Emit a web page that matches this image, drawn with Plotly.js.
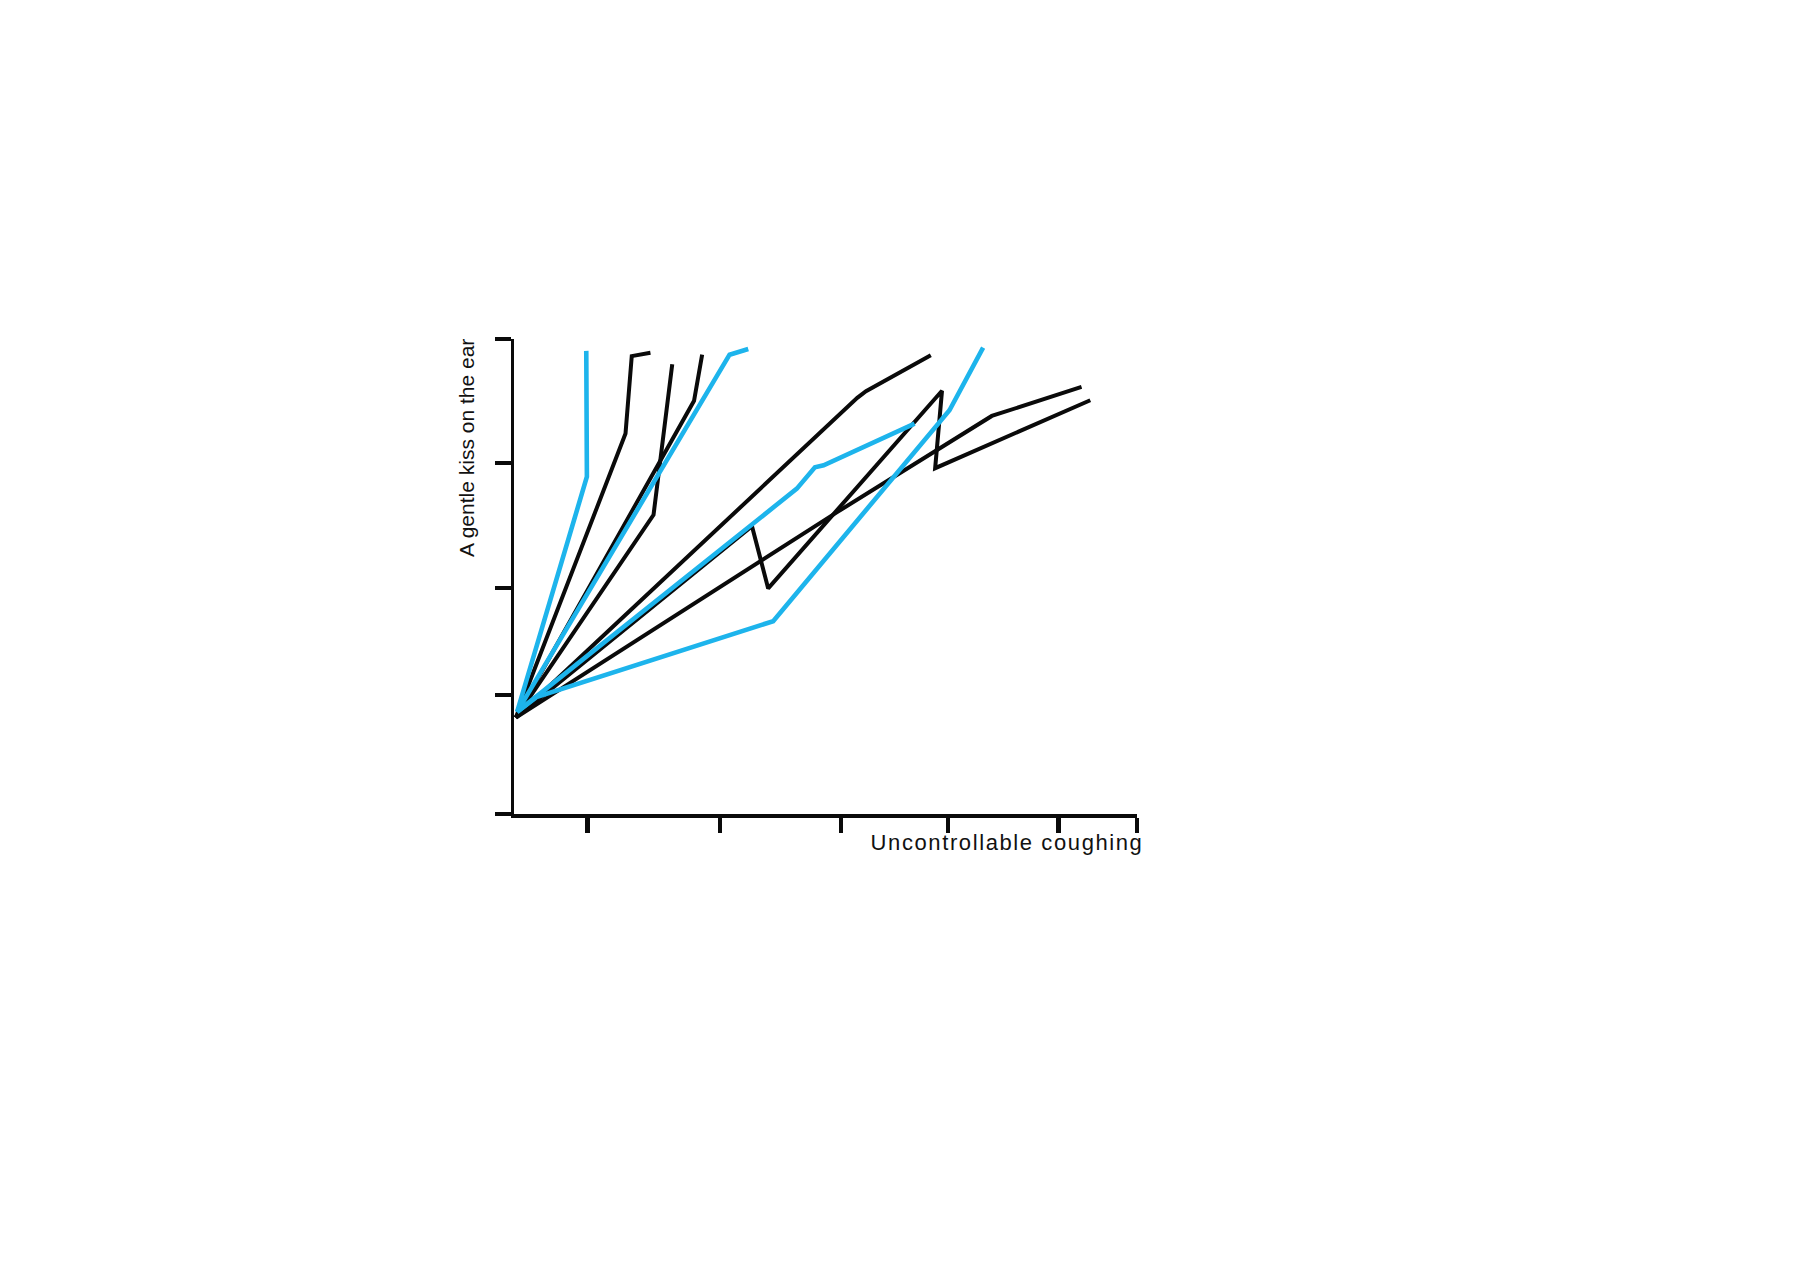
<!DOCTYPE html>
<html>
<head>
<meta charset="utf-8">
<script src="https://cdn.plot.ly/plotly-3.0.1.min.js"></script>
<style>
  html, body { margin: 0; padding: 0; background: #ffffff; }
  #chart { width: 1800px; height: 1275px; }
</style>
</head>
<body>
<div id="chart"></div>
<script>
// ---- Data (axis units: 0..100 on both axes) ----
const xTickVals = [11.8, 33.1, 52.5, 69.7, 87.4, 100];
const yTickVals = [0, 25.1, 47.6, 73.9, 100];

const xTitle = "Uncontrollable coughing";
const yTitle = "A gentle kiss on the ear";

// black pen lines
const blackB_x = [0.3, 17.9, 18.9, 21.9];
const blackB_y = [20.3, 80.1, 96.4, 97.1];
const blackC_x = [0.3, 22.4, 25.4];
const blackC_y = [20.3, 63.0, 94.7];
const blackD_x = [0.3, 28.9, 30.2];
const blackD_y = [20.3, 87.0, 96.7];
const blackF_x = [0.3, 55.1, 56.5, 66.9];
const blackF_y = [20.3, 87.6, 89.0, 96.6];
const blackH_x = [0.3, 38.2, 40.8, 68.7, 67.6, 92.5];
const blackH_y = [20.3, 60.6, 47.5, 89.1, 72.8, 87.1];
const blackI_x = [0.3, 51.8, 76.7, 91.1];
const blackI_y = [20.3, 63.5, 83.8, 89.9];

// blue pen lines
const blueA_x = [0.5, 11.7, 11.6];
const blueA_y = [21.5, 71.0, 97.5];
const blueE_x = [0.5, 34.6, 37.6];
const blueE_y = [21.5, 96.7, 97.9];
const blueG_x = [0.5, 45.4, 48.3, 49.7, 64.3];
const blueG_y = [21.5, 68.5, 73.0, 73.4, 82.2];
const blueJ_x = [0.5, 3.6, 41.6, 69.9, 75.3];
const blueJ_y = [21.5, 24.6, 40.6, 85.0, 98.2];

// ---- Styles ----
const BLACK = "#0a0a0a";
const BLUE = "#1db4ec";

function pen(x, y, color, width) {
  return {
    x: x, y: y, type: "scatter", mode: "lines",
    line: { color: color, width: width, shape: "linear" },
    hoverinfo: "skip", showlegend: false
  };
}

const traces = [
  pen(blackB_x, blackB_y, BLACK, 4),
  pen(blackC_x, blackC_y, BLACK, 4),
  pen(blackD_x, blackD_y, BLACK, 4),
  pen(blackF_x, blackF_y, BLACK, 4),
  pen(blackH_x, blackH_y, BLACK, 4),
  pen(blackI_x, blackI_y, BLACK, 4),
  pen(blueA_x, blueA_y, BLUE, 4.6),
  pen(blueE_x, blueE_y, BLUE, 4.6),
  pen(blueG_x, blueG_y, BLUE, 4.6),
  pen(blueJ_x, blueJ_y, BLUE, 4.6)
];

const layout = {
  width: 1800, height: 1275,
  paper_bgcolor: "#ffffff", plot_bgcolor: "#ffffff",
  margin: { l: 514, r: 663, t: 339, b: 461, pad: 0 },
  showlegend: false,
  hovermode: false,
  font: { family: "Liberation Sans, Arial, sans-serif", color: "#111111" },
  xaxis: {
    range: [0, 100], fixedrange: true,
    showgrid: false, zeroline: false,
    showline: true, linecolor: BLACK, linewidth: 3.8,
    tickmode: "array", tickvals: xTickVals, showticklabels: false,
    ticks: "outside", ticklen: 15, tickwidth: 4.5, tickcolor: BLACK
  },
  yaxis: {
    range: [0, 100], fixedrange: true,
    showgrid: false, zeroline: false,
    showline: true, linecolor: BLACK, linewidth: 3,
    tickmode: "array", tickvals: yTickVals, showticklabels: false,
    ticks: "outside", ticklen: 16, tickwidth: 4.5, tickcolor: BLACK
  },
  annotations: [
    {
      text: xTitle, xref: "paper", yref: "paper", x: 0.792, y: -0.061,
      xanchor: "center", yanchor: "middle", showarrow: false,
      font: { size: 22, family: "Liberation Sans, Arial, sans-serif", color: "#111111" }
    },
    {
      text: yTitle, xref: "paper", yref: "paper", x: -0.0751, y: 0.771,
      xanchor: "center", yanchor: "middle", showarrow: false, textangle: -90,
      font: { size: 21, family: "Liberation Sans, Arial, sans-serif", color: "#111111" }
    }
  ]
};

Plotly.newPlot("chart", traces, layout, { displayModeBar: false, staticPlot: true }).then(function () {
  const texts = document.querySelectorAll(".annotation-text");
  texts.forEach(function (t) {
    if (t.textContent === xTitle) { t.style.letterSpacing = "1.6px"; }
  });
});
</script>
</body>
</html>
